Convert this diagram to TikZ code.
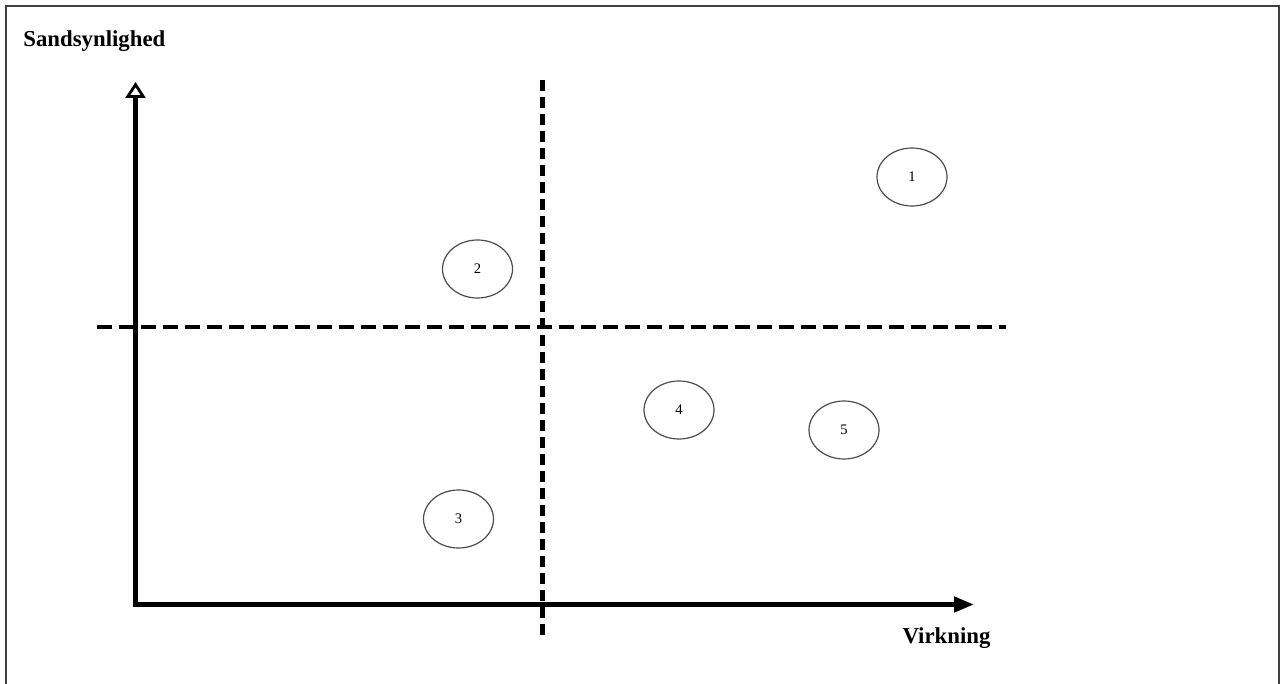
\documentclass[tikz,border=0pt]{standalone}
\usepackage{fontspec}
\setmainfont{Liberation Serif}
\usetikzlibrary{arrows.meta,shapes.geometric}
\begin{document}
\begin{tikzpicture}[x=0.5pt,y=-0.5pt,
  frameline/.style={draw=black!75,line width=0.75pt},
  axis/.style={line width=2.3pt,black},
  divider/.style={line width=2pt,black,dash pattern=on 7.5pt off 3.5pt},
  vdivider/.style={line width=2.5pt,black,dash pattern=on 5.5pt off 3pt},
  risk/.style={draw=black!70,line width=0.6pt,ellipse,minimum width=35pt,minimum height=29pt,inner sep=0pt,font=\fontsize{7.3}{8}\selectfont},
  axislabel/.style={font=\fontsize{11.4}{13}\selectfont\bfseries,inner sep=0pt}]
\useasboundingbox (0,0) rectangle (1280,684);
\draw[frameline] (6,700) -- (6,6) -- (1278.8,6) -- (1278.8,700);

% axes
\coordinate (origin) at (135.5,604.5);
\coordinate (ytip) at (135.5,82);
\coordinate (xtip) at (974,604.5);
\draw[axis,-{Triangle[open,length=8pt,width=10pt,line width=1.4pt]}] (origin) -- (ytip);
\draw[axis,-{Triangle[length=10pt,width=7.5pt]}] ([xshift=-1.1pt]origin) -- (xtip);

% quadrant dividers
\coordinate (hl) at (97,327.5);
\coordinate (hr) at (1006,327.5);
\coordinate (vt) at (542.5,80);
\coordinate (vb) at (542.5,638);
\draw[divider] (hl) -- (hr);
\draw[vdivider] (vt) -- (vb);

% labels
\node[axislabel,anchor=base west] (ylab) at (23,47) {Sandsynlighed};
\node[axislabel,anchor=base] (xlab) at (946.5,643) {Virkning};

% risks
\node[risk] (r1) at (912,177) {1};
\node[risk] (r2) at (477.5,269) {2};
\node[risk] (r3) at (458.5,519) {3};
\node[risk] (r4) at (679,410) {4};
\node[risk] (r5) at (844,430) {5};
\end{tikzpicture}
\end{document}
